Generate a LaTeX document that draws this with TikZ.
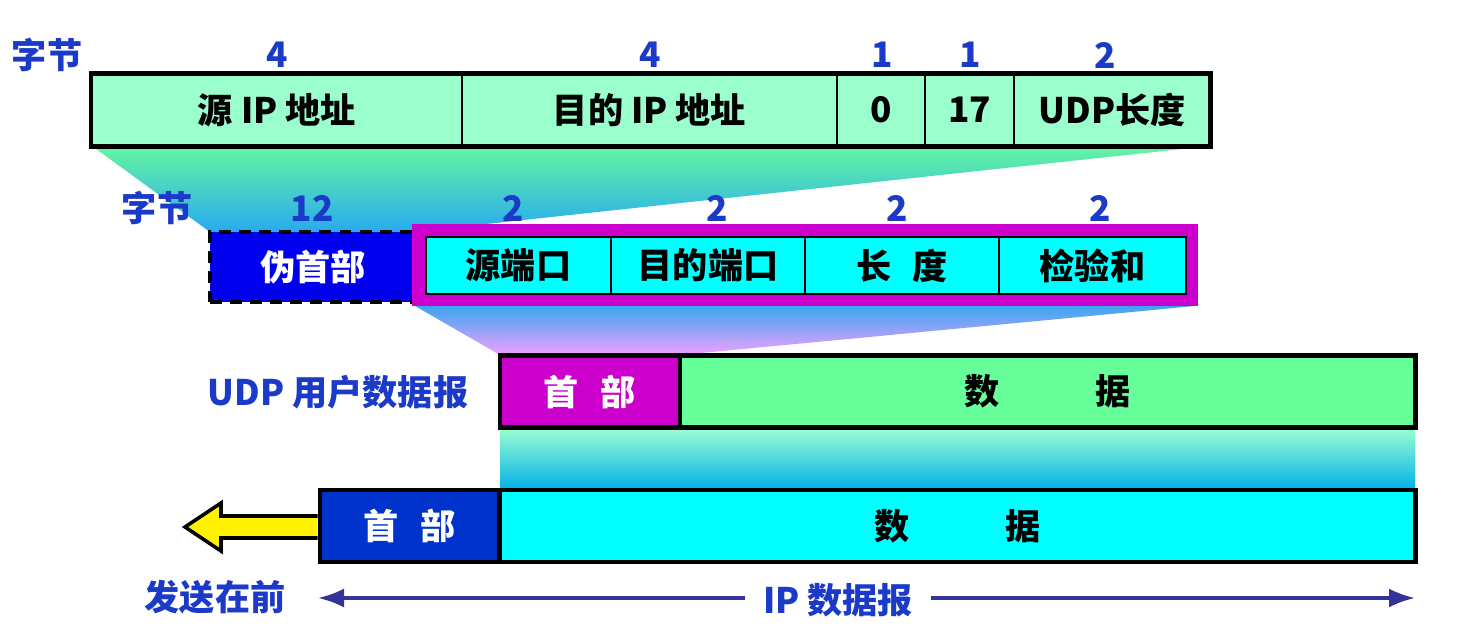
\documentclass[tikz,border=0pt]{standalone}
\usepackage{fontspec}
\setmainfont{Noto Sans CJK SC}
\usetikzlibrary{arrows.meta}
\begin{document}
\begin{tikzpicture}[x=0.01cm,y=-0.01cm,>=latex,font=\bfseries\fontsize{10}{12}\selectfont,line join=miter]
\definecolor{lblc}{RGB}{28,58,200}
\definecolor{ipc}{RGB}{155,255,205}
\definecolor{udpc}{RGB}{0,255,255}
\definecolor{magc}{RGB}{204,0,204}
\definecolor{pseudoc}{RGB}{0,0,238}
\definecolor{datac}{RGB}{102,255,153}
\definecolor{iphc}{RGB}{0,51,204}
\definecolor{arrc}{RGB}{51,51,153}
\definecolor{fa}{RGB}{100,245,160}
\definecolor{fb}{RGB}{40,170,240}
\definecolor{fc}{RGB}{60,165,240}
\definecolor{fd}{RGB}{240,160,255}
\definecolor{fe}{RGB}{155,255,210}
\definecolor{ff}{RGB}{0,176,232}

\tikzset{
lbl/.style={text=lblc},
ipcell/.style={draw=black, line width=0.5pt, fill=ipc, minimum height=0.72cm, inner sep=0pt},
udpcell/.style={draw=black, line width=0.5pt, fill=udpc, minimum height=0.57cm, inner sep=0pt},
boxcell/.style={draw=black, line width=1.3pt, minimum height=0.72cm, inner sep=0pt},
span/.style={arrc, line width=0.9pt, -{Latex[length=2.6mm,width=1.9mm]}}
}

\useasboundingbox (0,0) rectangle (1458,634);

\shade[top color=fa, bottom color=fb] (92,146) -- (1210,146) -- (412,232) -- (210,232) -- cycle;
\shade[top color=fc, bottom color=fd] (415,306) -- (1195,306) -- (680,355) -- (500,355) -- cycle;
\shade[top color=fe, bottom color=ff] (500,428) rectangle (1415,490);

\node[lbl] (by1) at (47,55) {字节};
\node[lbl] at (277,55) {4};
\node[lbl] at (650,55) {4};
\node[lbl] at (882,55) {1};
\node[lbl] at (970,55) {1};
\node[lbl] at (1105,55) {2};

\node[ipcell, minimum width=3.70cm] (srcip) at (277,110) {源 IP 地址};
\node[ipcell, minimum width=3.75cm] (dstip) at (649.5,110) {目的 IP 地址};
\node[ipcell, minimum width=0.88cm] (zero) at (881,110) {0};
\node[ipcell, minimum width=0.89cm] (proto) at (969.5,110) {17};
\node[ipcell, minimum width=1.96cm] (udplen) at (1112,110) {UDP长度};
\draw[line width=1.4pt] (srcip.north west) rectangle (udplen.south east);

\node[lbl] (by2) at (157,208) {字节};
\node[lbl] at (312,208) {12};
\node[lbl] at (513,208) {2};
\node[lbl] at (717,208) {2};
\node[lbl] at (897,208) {2};
\node[lbl] at (1100,208) {2};

\node[draw=black, dash pattern=on 3.4pt off 2.3pt, line width=1.2pt, fill=pseudoc, text=white, minimum width=2.06cm, minimum height=0.70cm, inner sep=0pt] (pseudo) at (313,267) {伪首部};
\node[fill=magc, minimum width=7.86cm, minimum height=0.82cm, inner sep=0pt] (udphdr) at (805,265) {};
\node[udpcell, minimum width=1.85cm] (sport) at (518.5,265.5) {源端口};
\node[udpcell, minimum width=1.94cm] (dport) at (708,265.5) {目的端口};
\node[udpcell, minimum width=1.94cm] (ulen) at (902,265.5) {长\hspace{0.21cm}度};
\node[udpcell, minimum width=1.87cm] (csum) at (1092.5,265.5) {检验和};

\node[lbl] (udplbl) at (338,392) {UDP 用户数据报};
\node[boxcell, fill=magc, text=white, minimum width=1.80cm] (udph) at (590,391.5) {首\hspace{0.22cm}部};
\node[boxcell, fill=datac, minimum width=7.35cm] (udpd) at (1047.5,391.5) {数\hspace{0.95cm}据};

\node[boxcell, fill=iphc, text=white, minimum width=1.80cm] (iph) at (410,526) {首\hspace{0.22cm}部};
\node[boxcell, fill=udpc, minimum width=9.15cm] (ipd) at (957.5,526) {数\hspace{0.95cm}据};

\draw[fill=yellow, line width=1pt] (iph.west |- 0,516) -- (221,516) -- (221,503) -- (185,527) -- (221,551) -- (221,538) -- (iph.west |- 0,538);

\node[lbl] (first) at (215,597) {发送在前};
\node[lbl, inner xsep=5pt] (iplbl) at (838,600) {IP 数据报};
\coordinate (ipl) at (318,598);
\coordinate (ipr) at (1415,598);
\draw[span] (iplbl.west |- ipl) -- (ipl);
\draw[span] (iplbl.east |- ipr) -- (ipr);
\end{tikzpicture}
\end{document}
